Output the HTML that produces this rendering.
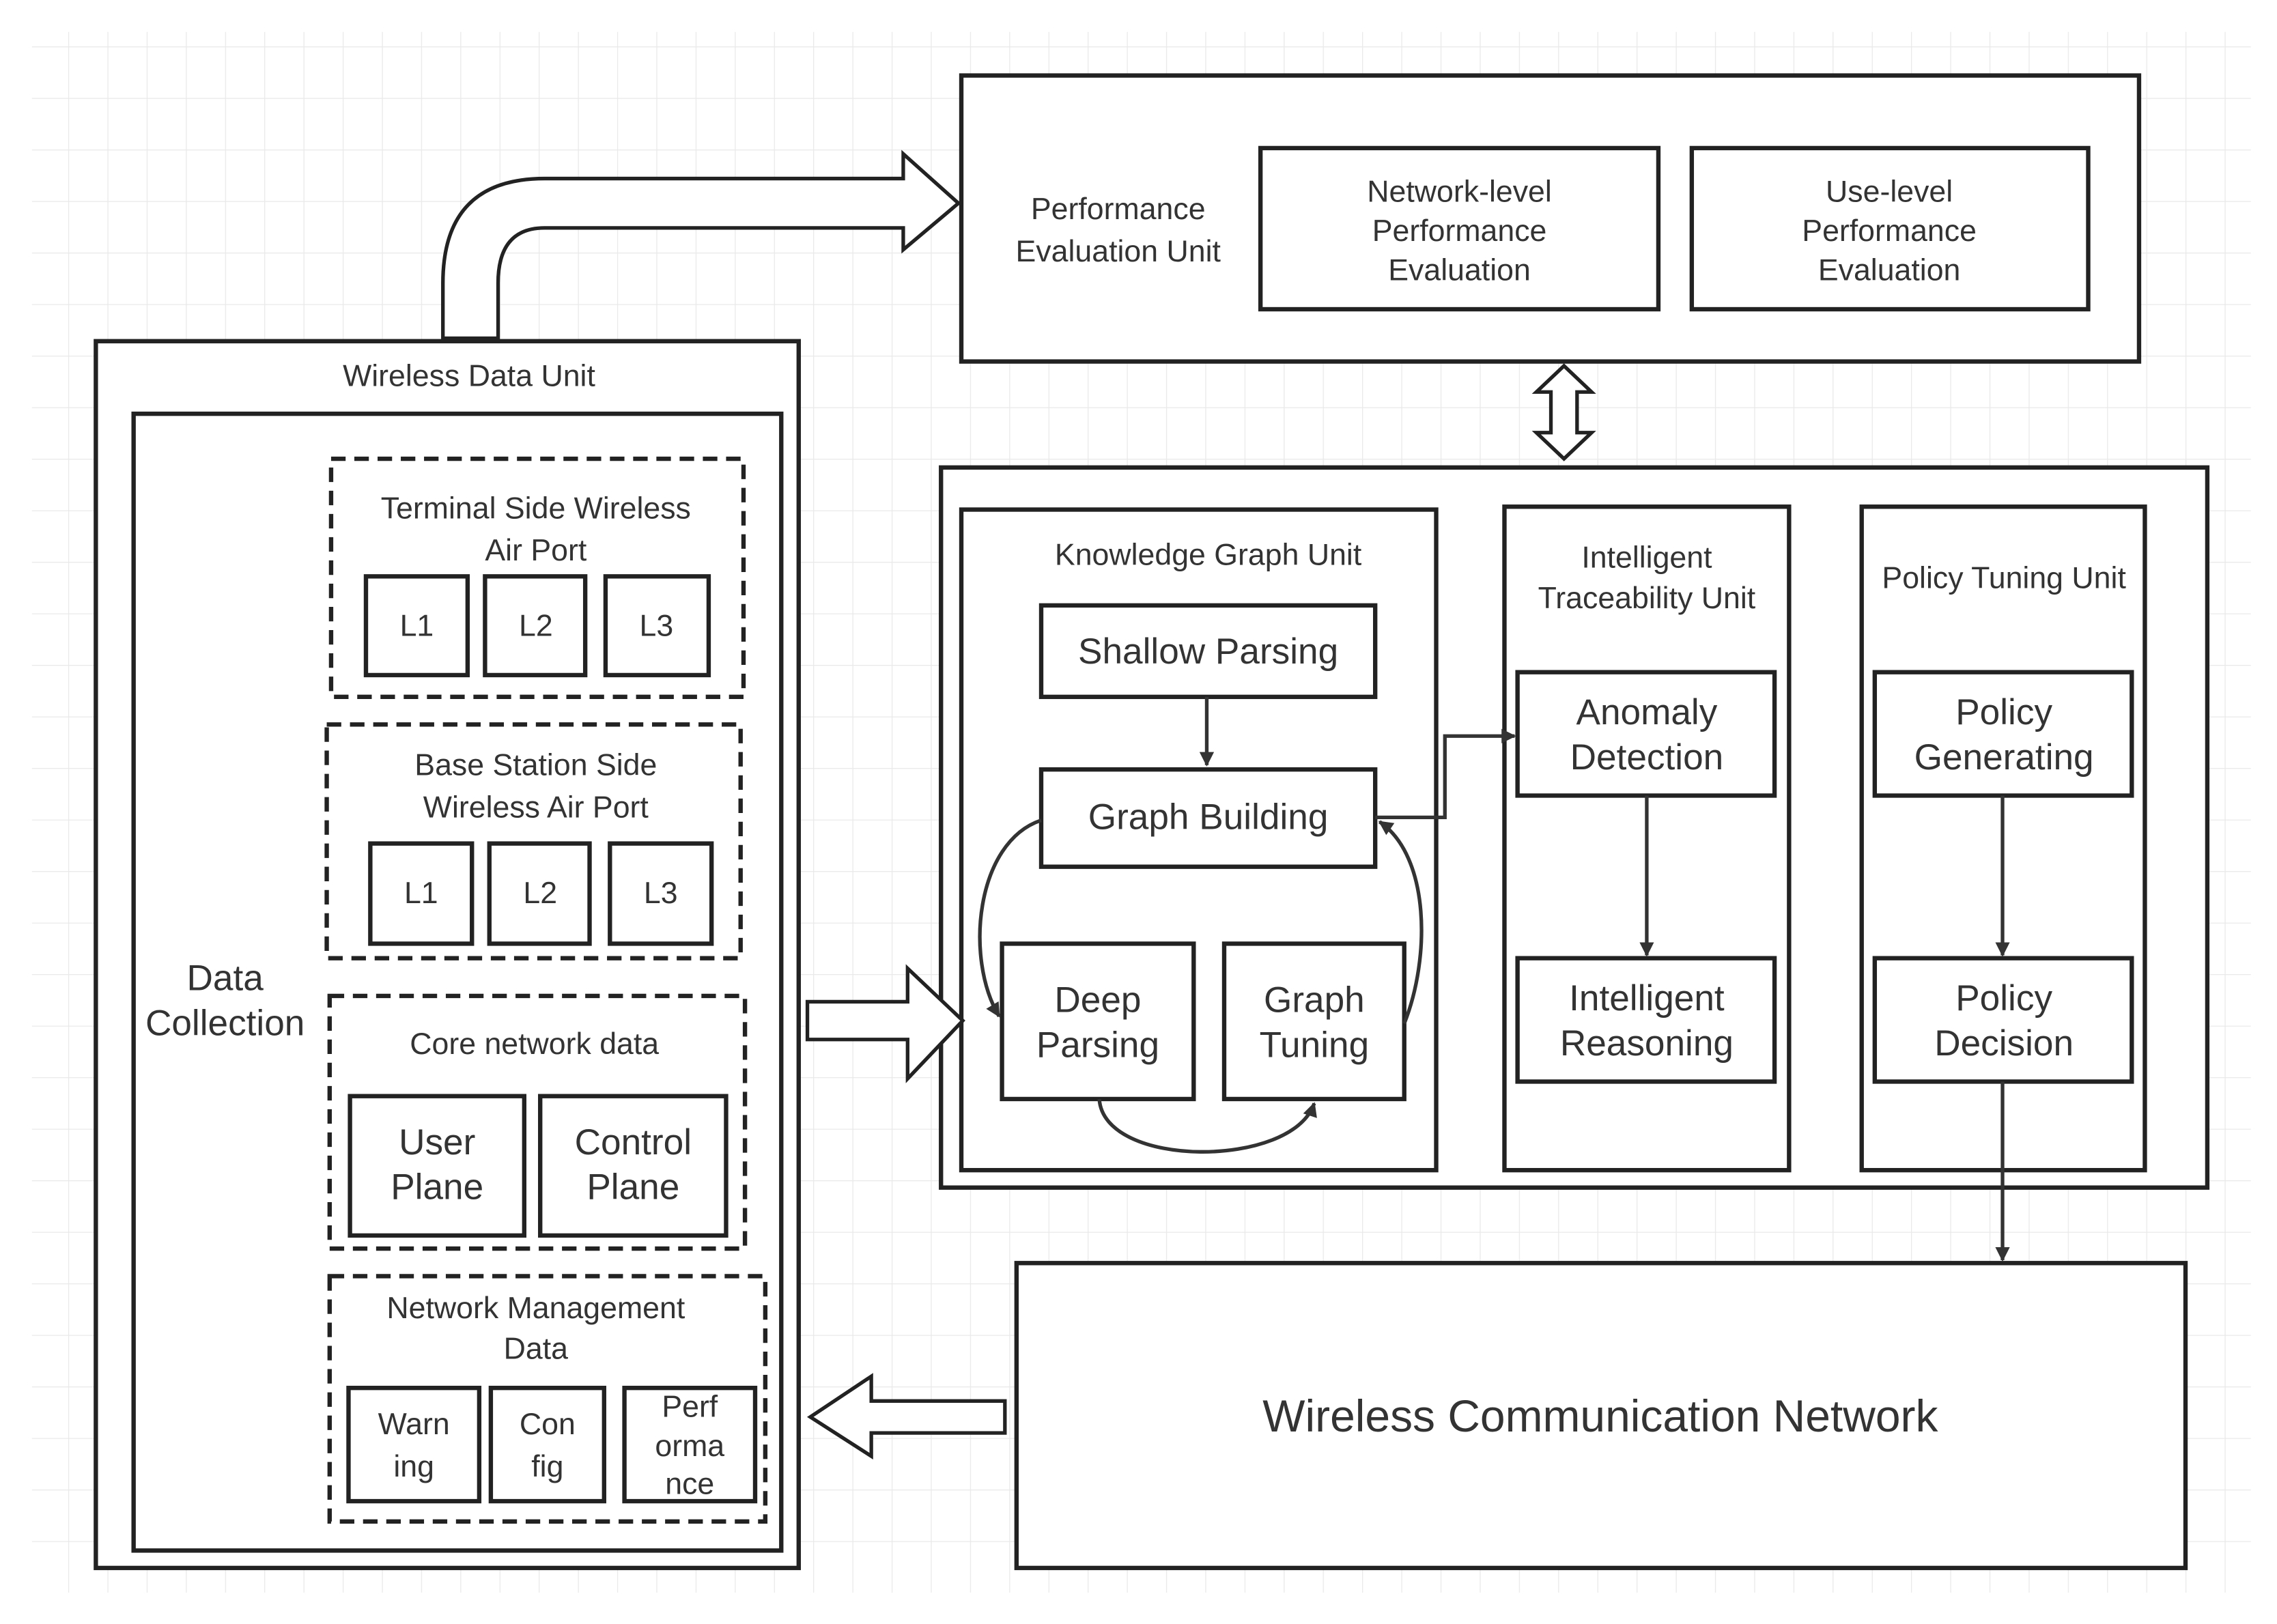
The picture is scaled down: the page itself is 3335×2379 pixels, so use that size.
<!DOCTYPE html>
<html><head><meta charset="utf-8"><style>html,body{margin:0;padding:0;background:#fff}svg{display:block}text{font-family:"Liberation Sans",sans-serif;fill:#333;text-anchor:middle}</style></head>
<body>
<svg width="3335" height="2379" viewBox="0 0 1568 1118.6" preserveAspectRatio="none" xmlns="http://www.w3.org/2000/svg">
<defs>
<pattern id="g" x="20" y="32" width="27" height="35.5" patternUnits="userSpaceOnUse">
<path d="M0 0V35.5M0 0H27" stroke="#e9e9e9" stroke-width="1.2" fill="none"/>
</pattern>
<marker id="a" markerWidth="10" markerHeight="10" refX="9" refY="5" orient="auto" markerUnits="userSpaceOnUse" viewBox="0 0 10 10"><path d="M0 0L10 5L0 10z" fill="#333"/></marker>
</defs>
<rect x="22" y="22" width="1528" height="1075" fill="url(#g)"/>
<g fill="#fff" stroke="#222" stroke-width="3">
<path d="M305 233V195Q305 123 375 123H622V106L660 140L622 172V157H375Q343 157 343 195V233Z" stroke-width="2.5"/>
<rect x="66" y="235" width="484" height="845"/>
<rect x="92" y="285" width="446" height="783"/>
<g stroke-dasharray="10 6">
<rect x="228" y="316" width="284" height="164"/>
<rect x="225" y="499" width="285" height="161"/>
<rect x="227" y="686" width="286" height="174"/>
<rect x="227" y="879" width="300" height="169"/>
</g>
<rect x="252" y="397" width="70" height="68"/><rect x="334" y="397" width="69" height="68"/><rect x="417" y="397" width="71" height="68"/>
<rect x="255" y="581" width="70" height="69"/><rect x="337" y="581" width="69" height="69"/><rect x="420" y="581" width="70" height="69"/>
<rect x="241" y="755" width="120" height="96"/><rect x="372" y="755" width="128" height="96"/>
<rect x="240" y="956" width="90" height="78"/><rect x="338" y="956" width="78" height="78"/><rect x="430" y="956" width="90" height="78"/>
<rect x="662" y="52" width="811" height="197"/>
<rect x="868" y="102" width="274" height="111"/><rect x="1165" y="102" width="273" height="111"/>
<path d="M1077 252L1096 270H1086V298H1096L1077 316L1058 298H1068V270H1058Z" stroke-width="2.5"/>
<rect x="648" y="322" width="872" height="496"/>
<rect x="662" y="351" width="327" height="455"/>
<rect x="717" y="417" width="230" height="63"/>
<rect x="717" y="530" width="230" height="67"/>
<rect x="690" y="650" width="132" height="107"/>
<rect x="843" y="650" width="124" height="107"/>
<rect x="1036" y="349" width="196" height="457"/>
<rect x="1045" y="463" width="177" height="85"/><rect x="1045" y="660" width="177" height="85"/>
<rect x="1282" y="349" width="195" height="457"/>
<rect x="1291" y="463" width="177" height="85"/><rect x="1291" y="660" width="177" height="85"/>
<path d="M556 690H625V667L663 703L625 743V716H556Z" stroke-width="2.5"/>
<rect x="700" y="870" width="805" height="210"/>
<path d="M558 976L600 948V965H692V987H600V1003Z" stroke-width="2.5"/>
</g>
<g fill="none" stroke="#333" stroke-width="2.5">
<path d="M831 480V527" marker-end="url(#a)"/>
<path d="M717 565C672 580 664 660 688 700" marker-end="url(#a)"/>
<path d="M757 757C760 805 890 805 905 760" marker-end="url(#a)"/>
<path d="M967 705C985 660 985 590 950 566" marker-end="url(#a)"/>
<path d="M947 563H995V507H1043" marker-end="url(#a)"/>
<path d="M1134 548V658" marker-end="url(#a)"/>
<path d="M1379 548V658" marker-end="url(#a)"/>
<path d="M1379 745V868" marker-end="url(#a)"/>
</g>
<g font-size="21">
<text x="323" y="266">Wireless Data Unit</text>
<text x="369" y="357">Terminal Side Wireless</text><text x="369" y="386">Air Port</text>
<text x="287" y="438">L1</text><text x="369" y="438">L2</text><text x="452" y="438">L3</text>
<text x="369" y="534">Base Station Side</text><text x="369" y="563">Wireless Air Port</text>
<text x="290" y="622">L1</text><text x="372" y="622">L2</text><text x="455" y="622">L3</text>
<text x="368" y="726">Core network data</text>
<text x="369" y="908">Network Management</text><text x="369" y="936">Data</text>
<text x="285" y="988">Warn</text><text x="285" y="1017">ing</text>
<text x="377" y="988">Con</text><text x="377" y="1017">fig</text>
<text x="475" y="976">Perf</text><text x="475" y="1003">orma</text><text x="475" y="1029">nce</text>
<text x="770" y="151">Performance</text><text x="770" y="180">Evaluation Unit</text>
<text x="1005" y="139">Network-level</text><text x="1005" y="166">Performance</text><text x="1005" y="193">Evaluation</text>
<text x="1301" y="139">Use-level</text><text x="1301" y="166">Performance</text><text x="1301" y="193">Evaluation</text>
<text x="832" y="389">Knowledge Graph Unit</text>
<text x="1134" y="391">Intelligent</text><text x="1134" y="419">Traceability Unit</text>
<text x="1380" y="405">Policy Tuning Unit</text>
</g>
<g font-size="25">
<text x="155" y="682">Data</text><text x="155" y="713">Collection</text>
<text x="301" y="795">User</text><text x="301" y="826">Plane</text>
<text x="436" y="795">Control</text><text x="436" y="826">Plane</text>
<text x="832" y="457">Shallow Parsing</text>
<text x="832" y="571">Graph Building</text>
<text x="756" y="697">Deep</text><text x="756" y="728">Parsing</text>
<text x="905" y="697">Graph</text><text x="905" y="728">Tuning</text>
<text x="1134" y="499">Anomaly</text><text x="1134" y="530">Detection</text>
<text x="1134" y="696">Intelligent</text><text x="1134" y="727">Reasoning</text>
<text x="1380" y="499">Policy</text><text x="1380" y="530">Generating</text>
<text x="1380" y="696">Policy</text><text x="1380" y="727">Decision</text>
<text x="1102" y="986" font-size="31">Wireless Communication Network</text>
</g>
</svg>
</body></html>
